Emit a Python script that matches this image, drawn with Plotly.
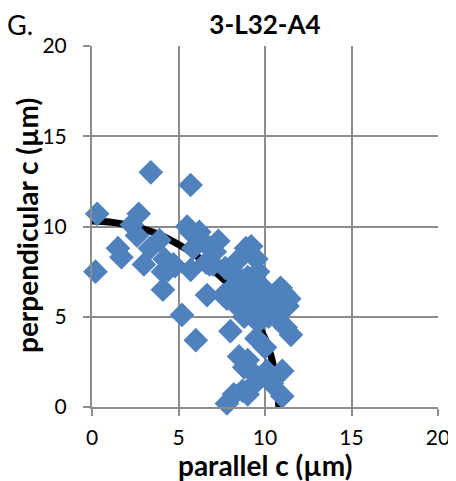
import plotly.graph_objects as go

# scatter data (parallel c, perpendicular c) in µm
par_x = [0.2, 0.3, 3.4, 5.7, 1.5, 1.7, 2.7, 2.3, 2.6, 3.0, 3.35, 3.9, 4.1, 4.7, 4.2, 4.1, 4.4, 4.8,
         5.2, 5.5, 5.7, 5.85, 5.7, 6.0, 6.2, 6.4, 6.6, 6.65, 7.0, 7.3, 7.1, 7.6, 7.7, 7.8, 8.0, 8.1,
         8.3, 8.4, 8.5, 8.6, 8.7, 8.8, 8.9, 9.0, 9.1, 9.2, 9.3, 9.4, 9.5, 9.6, 9.7, 9.8, 9.9, 10.0,
         10.2, 10.4, 10.6, 10.9, 11.1, 11.3, 11.4, 11.5, 11.2, 10.7, 9.5, 10.0, 8.5, 8.8, 9.0, 9.3,
         9.7, 10.1, 10.4, 11.0, 8.2, 8.7, 9.3, 7.8, 11.0, 9.0, 6.8, 9.6, 10.5, 8.1]
perp_y = [7.5, 10.7, 13.0, 12.3, 8.8, 8.3, 10.7, 10.1, 9.5, 7.9, 8.8, 9.25, 7.5, 7.9, 8.2, 6.5, 7.6, 7.8,
          5.1, 10.0, 9.7, 8.8, 7.6, 3.7, 9.7, 9.2, 8.0, 6.2, 7.9, 9.2, 8.6, 6.2, 7.7, 6.0, 4.2, 7.4,
          6.8, 8.1, 5.5, 6.2, 7.0, 5.0, 8.8, 7.2, 6.4, 8.9, 5.8, 6.9, 8.2, 4.7, 6.0, 5.3, 6.6, 5.8,
          5.0, 6.1, 5.6, 6.6, 6.3, 5.6, 6.0, 4.0, 4.4, 4.9, 3.8, 3.3, 2.8, 2.2, 2.6, 1.9,
          1.6, 2.0, 1.3, 2.0, 0.7, 0.9, 1.2, 0.2, 0.6, 0.7, 7.9, 7.5, 5.9, 5.9]

# fitted curve
fit_x = [0, 1, 2, 3, 4, 5, 6, 7, 8, 8.5, 9, 9.5, 10, 10.3, 10.5, 10.7, 10.8]
fit_y = [10.3, 10.25, 10.1, 9.85, 9.5, 9.0, 8.4, 7.6, 6.7, 6.1, 5.5, 4.7, 3.8, 3.0, 2.2, 1.2, 0.0]

x_ticks = [0, 5, 10, 15, 20]
y_ticks = [0, 5, 10, 15, 20]

FONT = "Lato"
GRID = "#8c8c8c"
OFF = 8  # page body margin
L, T = 92 - OFF, 46 - OFF
PW, PH = 438 - 92, 407 - 46
W, H = 456 - OFF, 481 - OFF
R, B = W - L - PW, H - T - PH

fig = go.Figure()
fig.add_trace(go.Scatter(x=fit_x, y=fit_y, mode="lines",
                         line=dict(color="black", width=7, shape="spline"),
                         hoverinfo="skip", cliponaxis=False))
fig.add_trace(go.Scatter(x=par_x, y=perp_y, mode="markers", cliponaxis=False,
                         marker=dict(symbol="diamond", size=19, color="#4F81BD",
                                     line=dict(width=0))))

axis_common = dict(range=[0, 20], showgrid=True, gridcolor=GRID, gridwidth=2,
                   showline=True, linecolor=GRID, linewidth=2,
                   ticks="outside", ticklen=7, tickcolor=GRID, tickwidth=2,
                   tickfont=dict(size=21, family=FONT, color="black"),
                   zeroline=False, automargin=False)

fig.update_layout(
    width=W, height=H,
    margin=dict(l=L, r=R, t=T, b=B),
    paper_bgcolor="white", plot_bgcolor="white",
    showlegend=False,
    font=dict(family=FONT, color="black"),
    title=dict(text="<b>3-L32-A4</b>", x=(L + PW / 2) / W, xanchor="center",
               y=1 - (25 - OFF) / H, yanchor="middle", font=dict(size=26, family=FONT)),
    xaxis=dict(tickvals=x_ticks, ticktext=[str(v) for v in x_ticks],
               ticklabelstandoff=4, **axis_common),
    yaxis=dict(tickvals=y_ticks, ticktext=[str(v) for v in y_ticks],
               ticklabelstandoff=12, **axis_common),
)
fig.add_annotation(text="G.", xref="paper", yref="paper", x=(5 - OFF - L) / PW,
                   y=1 + (T - (25 - OFF)) / PH,
                   xanchor="left", yanchor="middle", showarrow=False,
                   font=dict(size=27, family=FONT, color="black"))
fig.add_annotation(text="<b>parallel c (µm)</b>", xref="paper", yref="paper",
                   x=0.5, y=-(465 - 407) / PH, xanchor="center", yanchor="middle",
                   showarrow=False, font=dict(size=28, family=FONT, color="black"))
fig.add_annotation(text="<b>perpendicular c (µm)</b>", xref="paper", yref="paper",
                   x=(27 - 92) / PW, y=1 - (226 - 46) / PH, xanchor="center", yanchor="middle",
                   textangle=-90, showarrow=False,
                   font=dict(size=28, family=FONT, color="black"))

fig.write_html("out.html")
